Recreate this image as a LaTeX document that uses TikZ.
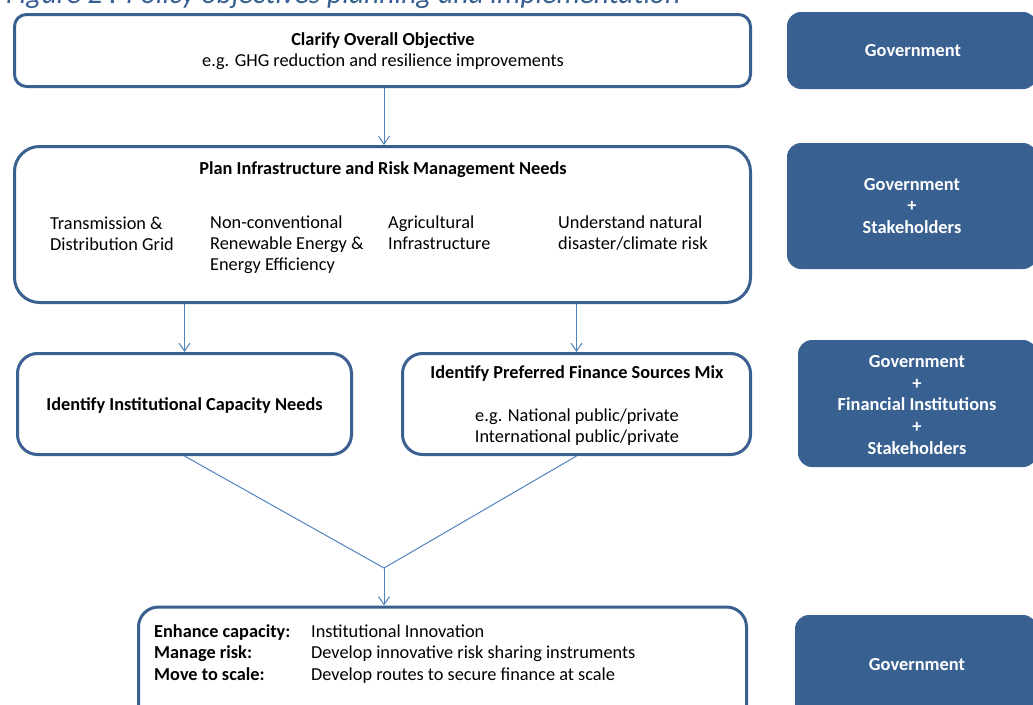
\documentclass[tikz,border=0pt]{standalone}
\usepackage{fontspec}
\setmainfont{Carlito}
\usetikzlibrary{arrows.meta,calc}
\definecolor{bordc}{RGB}{58,96,143}
\definecolor{fillc}{RGB}{56,96,145}
\definecolor{arrc}{RGB}{79,129,189}
\definecolor{capc}{RGB}{54,95,145}
\begin{document}
\begin{tikzpicture}[x=1pt,y=-1pt,
  box/.style={draw=bordc,line width=3pt,fill=white,inner sep=0pt},
  sidebox/.style={fill=fillc,rounded corners=14pt,inner sep=0pt},
  txt/.style={inner sep=0pt,font=\fontsize{18.3}{21}\selectfont},
  btxt/.style={txt,font=\fontsize{18.3}{21}\selectfont\bfseries},
  wtxt/.style={inner sep=0pt,text=white,align=center,font=\fontsize{18.4}{21.7}\selectfont\bfseries},
  conn/.style={draw=arrc,line width=1pt},
  arr/.style={conn,-{Straight Barb[length=8pt,width=11pt]}}]
\useasboundingbox (0,0) rectangle (1033,704);
\clip (0,0) rectangle (1033,704);
% caption (cut off at top)
\node[inner sep=0pt,anchor=base west,text=capc,font=\fontsize{29.5}{33}\selectfont\itshape] (cap) at (6,3) {Figure 2 : Policy objectives planning and implementation};
% left boxes
\node[box,rounded corners=12pt,minimum width=736pt,minimum height=72pt] (b1) at (382.5,50.5) {};
\node[box,rounded corners=25pt,minimum width=736pt,minimum height=156pt] (b2) at (382.5,224.5) {};
\node[box,rounded corners=20pt,minimum width=334pt,minimum height=101pt] (b3) at (184.5,404) {};
\node[box,rounded corners=20pt,minimum width=348pt,minimum height=101pt] (b4) at (576.5,404) {};
\node[box,rounded corners=20pt,minimum width=608pt,minimum height=120pt] (b5) at (442.5,667) {};
% right boxes
\node[sidebox,minimum width=250pt,minimum height=77pt] (r1) at (912,50.5) {};
\node[sidebox,minimum width=250pt,minimum height=126pt] (r2) at (912,206) {};
\node[sidebox,minimum width=239pt,minimum height=127pt] (r3) at (917.5,403.5) {};
\node[sidebox,minimum width=242pt,minimum height=110pt] (r4) at (916,670) {};
% texts
\node[txt,align=center] (t1) at (383,51) {\textbf{Clarify Overall Objective}\\e.g. GHG reduction and resilience improvements};
\node[btxt] (t2) at (383,170) {Plan Infrastructure and Risk Management Needs};
\node[txt,align=left,anchor=base west] (t2a) at (50,250) {Transmission \&\\Distribution Grid};
\node[txt,align=left,anchor=base west] (t2b) at (210,270) {Non-conventional\\Renewable Energy \&\\Energy Efficiency};
\node[txt,align=left,anchor=base west] (t2c) at (388,249) {Agricultural\\Infrastructure};
\node[txt,align=left,anchor=base west] (t2d) at (558,249) {Understand natural\\disaster/climate risk};
\node[btxt] (t3) at (184.5,405) {Identify Institutional Capacity Needs};
\node[btxt] (t4) at (577,373) {Identify Preferred Finance Sources Mix};
\node[txt,align=center] (t4b) at (577,427.5) {e.g. National public/private\\International public/private};
\node[txt,align=left,anchor=base west,font=\fontsize{18.3}{21.5}\selectfont\bfseries] (t5a) at (154,680) {Enhance capacity:\\Manage risk:\\Move to scale:};
\node[txt,align=left,anchor=base west,font=\fontsize{18.3}{21.5}\selectfont] (t5b) at (311,680) {Institutional Innovation\\Develop innovative risk sharing instruments\\Develop routes to secure finance at scale};
\node[wtxt] (s1) at (913,51) {Government};
\node[wtxt] (s2) at (912,206) {Government\\+\\Stakeholders};
\node[wtxt] (s3) at (917,405) {Government\\+\\Financial Institutions\\+\\Stakeholders};
\node[wtxt] (s4) at (917,665) {Government};
% connectors
\draw[arr] ($(b1.south)+(1.5,0)$) -- ($(b2.north)+(1.5,0)$);
\draw[arr] (b2.south -| b3.north) -- (b3.north);
\draw[arr] (b2.south -| b4.north) -- (b4.north);
\coordinate (j) at (384,568);
\draw[conn] (b3.south) -- (j);
\draw[conn] (b4.south) -- (j);
\draw[arr] (j) -- (j |- b5.north);
\end{tikzpicture}
\end{document}
